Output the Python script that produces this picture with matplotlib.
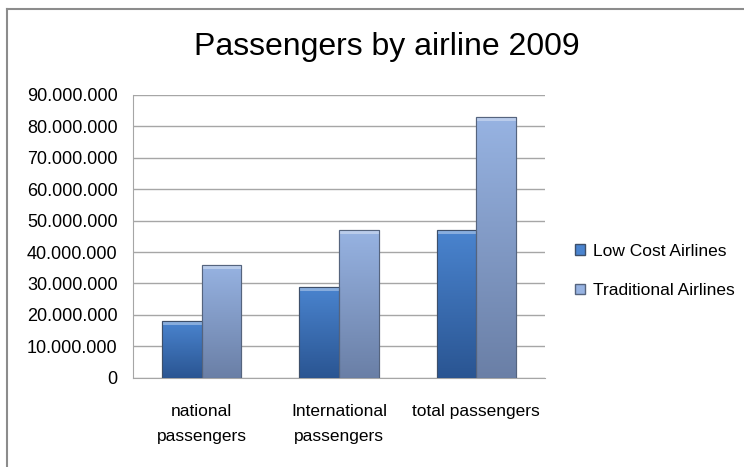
import numpy as np
import matplotlib.pyplot as plt
from matplotlib.colors import LinearSegmentedColormap
from matplotlib.lines import Line2D
from matplotlib.patches import Patch

plt.rcParams['font.family'] = ['Liberation Sans', 'DejaVu Sans']

# Data
categories = ['national\npassengers', 'International\npassengers', 'total passengers']
low_cost = [18000000, 29000000, 47000000]
traditional = [36000000, 47000000, 83000000]
series_names = ['Low Cost Airlines', 'Traditional Airlines']
yticks = np.arange(0, 90000001, 10000000)

# Colours (top, bottom of gradient)
low_cols = ('#4a84cf', '#2a5592')
trad_cols = ('#97b3e2', '#6a7fa6')

fig = plt.figure(figsize=(7.44, 4.67), dpi=100)
ax = fig.add_axes([0.1788, 0.1912, 0.5537, 0.6054])

x = np.arange(len(categories))
w = 0.288
bars_low = ax.bar(x - w / 2, low_cost, w, color=low_cols[1], edgecolor='#3d4f6a', linewidth=0.8, zorder=3)
bars_trad = ax.bar(x + w / 2, traditional, w, color=trad_cols[1], edgecolor='#55647e', linewidth=0.8, zorder=3)

# gradient fill clipped to each bar
grad = np.linspace(0, 1, 256).reshape(-1, 1)
for bars, cols in [(bars_low, low_cols), (bars_trad, trad_cols)]:
    cmap = LinearSegmentedColormap.from_list('g', [cols[0], cols[1]])
    for b in bars:
        x0, y0 = b.get_x(), b.get_y()
        x1, y1 = x0 + b.get_width(), y0 + b.get_height()
        im = ax.imshow(grad, extent=[x0, x1, y0, y1], cmap=cmap, aspect='auto', zorder=3.5,
                       interpolation='bicubic', origin='upper')
        im.set_clip_path(b)
        # light bevel at top
        ax.fill_between([x0, x1], y1 - 1300000, y1, color='white', alpha=0.35, zorder=3.6, linewidth=0)
        ax.add_patch(plt.Rectangle((x0, y0), b.get_width(), b.get_height(), fill=False,
                                   edgecolor=b.get_edgecolor(), linewidth=0.8, zorder=3.7))

ax.set_xlim(-0.5, 2.5)
ax.set_ylim(0, 90000000)
ax.set_yticks(yticks)
ax.set_yticklabels([f'{int(v):,}'.replace(',', '.') for v in yticks], fontsize=13)
ax.set_xticks(x)
ax.set_xticklabels(categories, fontsize=12.5, linespacing=1.8)
ax.tick_params(axis='y', length=0, pad=11)
ax.tick_params(axis='x', length=0, pad=19)
ax.grid(axis='y', color='#a6a6a6', linewidth=1.0, zorder=0)
ax.set_axisbelow(True)
for s in ['top', 'right']:
    ax.spines[s].set_visible(False)
ax.spines['left'].set_color('#a6a6a6')
ax.spines['bottom'].set_color('#a6a6a6')

fig.suptitle('Passengers by airline 2009', fontsize=23, x=0.52, y=0.9, va='center')

handles = [Patch(facecolor=low_cols[0], edgecolor='#3d4f6a'),
           Patch(facecolor=trad_cols[0], edgecolor='#55647e')]
fig.legend(handles, series_names, loc='center left', bbox_to_anchor=(0.752, 0.42),
           frameon=False, fontsize=12.5, handlelength=0.55, handleheight=0.55,
           handletextpad=0.5, labelspacing=1.4)

# chart frame
fig.add_artist(Line2D([7 / 744, 7 / 744], [0, 1 - 9 / 467], color='#8c8c8c', linewidth=1.5))
fig.add_artist(Line2D([7 / 744, 1], [1 - 9 / 467, 1 - 9 / 467], color='#8c8c8c', linewidth=1.5))

fig.savefig('out.png', dpi=100)
